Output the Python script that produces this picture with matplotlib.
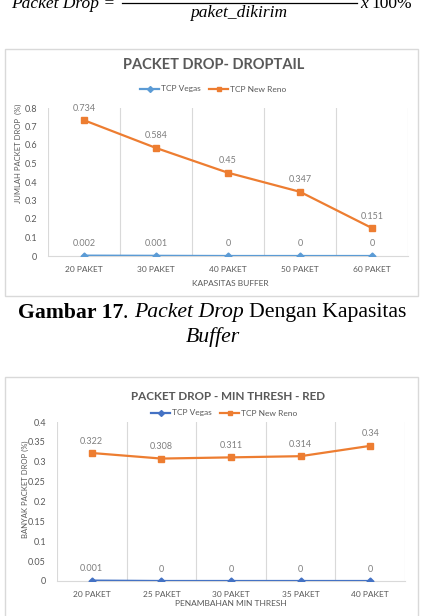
import matplotlib
matplotlib.use('Agg')
import matplotlib.pyplot as plt
from matplotlib.patches import Rectangle
from matplotlib.lines import Line2D
import numpy as np

# Chart data
buffer_labels = ['20 PAKET', '30 PAKET', '40 PAKET', '50 PAKET', '60 PAKET']
buffer_vegas = [0.002, 0.001, 0, 0, 0]
buffer_newreno = [0.734, 0.584, 0.45, 0.347, 0.151]
buffer_yticks = [0, 0.1, 0.2, 0.3, 0.4, 0.5, 0.6, 0.7, 0.8]

thresh_labels = ['20 PAKET', '25 PAKET', '30 PAKET', '35 PAKET', '40 PAKET']
thresh_vegas = [0.001, 0, 0, 0, 0]
thresh_newreno = [0.322, 0.308, 0.311, 0.314, 0.34]
thresh_yticks = [0, 0.05, 0.1, 0.15, 0.2, 0.25, 0.3, 0.35, 0.4]

W, H = 424, 616
TXT = '#595959'
GRID = '#D9D9D9'
ORANGE = '#ED7D31'
CHART_FONT = 'Lato'
SERIF = 'Liberation Serif'

fig = plt.figure(figsize=(W / 100, H / 100), dpi=100)


def fx(x):
    return x / W


def fy(y):
    return 1 - y / H


def rich_line(parts, y, cx, size):
    """Draw a caption line made of differently styled pieces, centred at cx."""
    renderer = fig.canvas.get_renderer()
    probe_a = fig.text(0, 0, 'n n', family=SERIF, fontsize=size)
    probe_b = fig.text(0, 0, 'nn', family=SERIF, fontsize=size)
    space = probe_a.get_window_extent(renderer).width - probe_b.get_window_extent(renderer).width
    probe_a.remove()
    probe_b.remove()

    texts, widths = [], []
    for s, weight, style, gap in parts:
        t = fig.text(0, fy(y), s, family=SERIF, fontsize=size, weight=weight,
                     style=style, va='center', color='black')
        texts.append((t, gap))
        widths.append(t.get_window_extent(renderer).width + (space if gap else 0))
    x = cx - sum(widths) / 2
    for (t, gap), w in zip(texts, widths):
        t.set_x(fx(x))
        x += w


def line_chart(box, plot, title, title_xy, title_size, legend_xy, labels, vegas, newreno,
               yticks, ylabel, ylabel_xy, xlabel, xlabel_xy, vegas_color):
    x0, y0, x1, y1 = box
    # chart border (no fill so it stays behind the axes)
    fig.patches.append(Rectangle((fx(x0), fy(y1)), fx(x1 - x0), (y1 - y0) / H,
                                 transform=fig.transFigure, facecolor='none',
                                 edgecolor=GRID, lw=1))
    left, top, right, bottom = plot
    ax = fig.add_axes([fx(left), fy(bottom), fx(right - left), (bottom - top) / H])

    xs = np.arange(len(labels))
    ax.plot(xs, vegas, color=vegas_color, lw=1.6, marker='D', ms=3.5, zorder=4)
    ax.plot(xs, newreno, color=ORANGE, lw=1.6, marker='s', ms=4.5, zorder=4)

    # data labels
    for series in (vegas, newreno):
        for x, v in zip(xs, series):
            ax.annotate(f'{v:g}', (x, v), xytext=(0, 12), textcoords='offset pixels',
                        ha='center', va='center', fontsize=6.5, color='#7F7F7F',
                        family=CHART_FONT)

    ax.set_xlim(-0.5, len(labels) - 0.5)
    ax.set_ylim(yticks[0], yticks[-1])
    ax.set_xticks(xs)
    ax.set_xticklabels(labels)
    ax.set_yticks(yticks)
    ax.set_yticklabels([f'{v:g}' for v in yticks])
    ax.set_xticks(np.arange(-0.5, len(labels), 1), minor=True)
    ax.grid(which='minor', axis='x', color=GRID, lw=0.8)
    ax.tick_params(which='both', length=0)
    ax.tick_params(axis='x', pad=7, labelsize=6, labelcolor=TXT)
    ax.tick_params(axis='y', pad=8, labelsize=6.5, labelcolor=TXT)
    for lab in ax.get_xticklabels() + ax.get_yticklabels():
        lab.set_family(CHART_FONT)
    for side in ['top', 'right', 'left']:
        ax.spines[side].set_visible(False)
    ax.spines['bottom'].set_color(GRID)
    ax.patch.set_alpha(0)

    fig.text(fx(title_xy[0]), fy(title_xy[1]), title, ha='center', va='center',
             fontsize=title_size, weight='bold', color=TXT, family=CHART_FONT)
    fig.text(fx(ylabel_xy[0]), fy(ylabel_xy[1]), ylabel, rotation=90, ha='center',
             va='center', fontsize=5.5, color=TXT, family=CHART_FONT)
    fig.text(fx(xlabel_xy[0]), fy(xlabel_xy[1]), xlabel, ha='center', va='center',
             fontsize=6, color=TXT, family=CHART_FONT)

    handles = [Line2D([], [], color=vegas_color, lw=1.6, marker='D', ms=3),
               Line2D([], [], color=ORANGE, lw=1.6, marker='s', ms=3.5)]
    fig.legend(handles, ['TCP Vegas', 'TCP New Reno'], loc='center',
               bbox_to_anchor=(fx(legend_xy[0]), fy(legend_xy[1])), ncol=2,
               frameon=False, handlelength=2.3, handletextpad=0.2,
               columnspacing=1.0, prop={'family': CHART_FONT, 'size': 6},
               labelcolor=TXT)
    return ax


# formula fragment at the top of the page (cut off in the source)
fig.text(fx(115), fy(8), 'Packet Drop =', ha='right', va='baseline', fontsize=12.5,
         style='italic', family=SERIF)
fig.add_artist(Line2D([fx(122), fx(357)], [fy(3.3), fy(3.3)], color='black', lw=0.9,
                      transform=fig.transFigure))
fig.text(fx(239), fy(17), 'paket_dikirim', ha='center', va='baseline', fontsize=12.5,
         style='italic', family=SERIF)
fig.text(fx(360), fy(8), 'x', ha='left', va='baseline', fontsize=12.5,
         style='italic', family=SERIF)
fig.text(fx(371), fy(8), '100%', ha='left', va='baseline', fontsize=12.5, family=SERIF)

# chart 1: droptail
line_chart(box=(5, 49, 418, 296), plot=(48, 108, 408, 256),
           title='PACKET DROP- DROPTAIL', title_xy=(214, 65), title_size=10.5,
           legend_xy=(213, 89), labels=buffer_labels, vegas=buffer_vegas,
           newreno=buffer_newreno, yticks=buffer_yticks,
           ylabel='JUMLAH PACKET DROP  (%)', ylabel_xy=(18, 153),
           xlabel='KAPASITAS BUFFER', xlabel_xy=(230, 283), vegas_color='#5B9BD5')

rich_line([('Gambar 17', 'bold', 'normal', False), ('.', 'normal', 'normal', True),
           ('Packet Drop', 'normal', 'italic', True),
           ('Dengan Kapasitas', 'normal', 'normal', False)], y=313, cx=212, size=15.7)
rich_line([('Buffer', 'normal', 'italic', False)], y=337, cx=213, size=15.7)

# chart 2: min thresh RED
line_chart(box=(5, 377, 418, 640), plot=(57, 422, 405, 581),
           title='PACKET DROP - MIN THRESH - RED', title_xy=(228, 397), title_size=8.4,
           legend_xy=(224, 413), labels=thresh_labels, vegas=thresh_vegas,
           newreno=thresh_newreno, yticks=thresh_yticks,
           ylabel='BANYAK PACKET DROP (%)', ylabel_xy=(25, 489),
           xlabel='PENAMBAHAN MIN THRESH', xlabel_xy=(231, 604), vegas_color='#4472C4')

fig.savefig('out.png', dpi=100, facecolor='white')
